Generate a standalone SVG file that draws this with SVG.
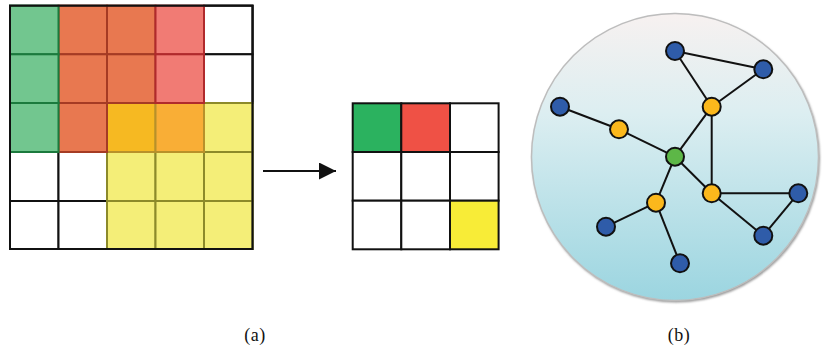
<svg xmlns="http://www.w3.org/2000/svg" width="822" height="349" viewBox="0 0 822 349">
  <defs>
    <style>
      .cell { stroke-width: 2; }
      .w { fill: #ffffff; stroke: #111111; }
      .gr { fill: #72C68F; stroke: #1B7A3D; }
      .or { fill: #E87850; stroke: #A53B24; }
      .pk { fill: #F17B74; stroke: #B02A2C; }
      .am { fill: #F6B922; stroke: #B8912A; }
      .ao { fill: #F9AE36; stroke: #B8912A; }
      .ye { fill: #F4EE78; stroke: #8C8A2A; }
      .edge { stroke: #111111; stroke-width: 2; fill: none; }
      .node { stroke: #111111; stroke-width: 2; }
      .blue { fill: #2F5CA9; }
      .gold { fill: #FBB81C; }
      .lime { fill: #5DB747; }
      .lbl { font-family: "Liberation Serif", "DejaVu Serif", serif; font-size: 18px; letter-spacing: 0.5px; fill: #111111; text-anchor: middle; }
    </style>
    <linearGradient id="disc" x1="0" y1="0" x2="0" y2="1">
      <stop offset="0" stop-color="#F7F1F0"/>
      <stop offset="0.35" stop-color="#DCEEF1"/>
      <stop offset="1" stop-color="#9BD5E0"/>
    </linearGradient>
    <filter id="shade" x="-10%" y="-10%" width="120%" height="120%">
      <feGaussianBlur stdDeviation="1.2"/>
    </filter>
    <marker id="head" viewBox="0 0 10 10" refX="10" refY="5" markerWidth="17" markerHeight="17" markerUnits="userSpaceOnUse" orient="auto">
      <path d="M0,0 L10,5 L0,10 Z" fill="#111111"/>
    </marker>
  </defs>

  <!-- 5x5 input grid -->
  <g id="grid-input">
    <rect class="cell w" x="10" y="5.7" width="242.5" height="243.3"/>
    <rect class="cell w" x="204" y="5.7" width="48.5" height="48.6"/>
    <rect class="cell w" x="204" y="54.3" width="48.5" height="48.7"/>
    <rect class="cell w" x="10" y="152" width="48.5" height="49"/>
    <rect class="cell w" x="58.5" y="152" width="48.5" height="49"/>
    <rect class="cell w" x="10" y="201" width="48.5" height="48"/>
    <rect class="cell w" x="58.5" y="201" width="48.5" height="48"/>

    <rect class="cell ye" x="204" y="103" width="48.5" height="49"/>
    <rect class="cell ye" x="107" y="152" width="48.5" height="49"/>
    <rect class="cell ye" x="155.5" y="152" width="48.5" height="49"/>
    <rect class="cell ye" x="204" y="152" width="48.5" height="49"/>
    <rect class="cell ye" x="107" y="201" width="48.5" height="48"/>
    <rect class="cell ye" x="155.5" y="201" width="48.5" height="48"/>
    <rect class="cell ye" x="204" y="201" width="48.5" height="48"/>

    <rect class="cell am" x="107" y="103" width="48.5" height="49"/>
    <rect class="cell ao" x="155.5" y="103" width="48.5" height="49"/>

    <rect class="cell or" x="58.5" y="5.7" width="48.5" height="48.6"/>
    <rect class="cell or" x="107" y="5.7" width="48.5" height="48.6"/>
    <rect class="cell or" x="58.5" y="54.3" width="48.5" height="48.7"/>
    <rect class="cell or" x="107" y="54.3" width="48.5" height="48.7"/>
    <rect class="cell or" x="58.5" y="103" width="48.5" height="49"/>

    <rect class="cell pk" x="155.5" y="5.7" width="48.5" height="48.6"/>
    <rect class="cell pk" x="155.5" y="54.3" width="48.5" height="48.7"/>

    <rect class="cell gr" x="10" y="5.7" width="48.5" height="48.6"/>
    <rect class="cell gr" x="10" y="54.3" width="48.5" height="48.7"/>
    <rect class="cell gr" x="10" y="103" width="48.5" height="49"/>

    <rect x="10" y="5.7" width="242.5" height="243.3" fill="none" stroke="#111111" stroke-width="2"/>
  </g>

  <!-- connector -->
  <g id="connectors-main">
    <line x1="263" y1="171" x2="336" y2="171" stroke="#111111" stroke-width="2" marker-end="url(#head)"/>
  </g>

  <!-- 3x3 output grid -->
  <g id="grid-output">
    <rect x="352.7" y="103.3" width="48.6" height="48.7" fill="#2BB25F" stroke="#111111" stroke-width="2"/>
    <rect x="401.3" y="103.3" width="48.7" height="48.7" fill="#EF5145" stroke="#111111" stroke-width="2"/>
    <rect x="450" y="103.3" width="48.6" height="48.7" fill="#ffffff" stroke="#111111" stroke-width="2"/>
    <rect x="352.7" y="152" width="48.6" height="48.7" fill="#ffffff" stroke="#111111" stroke-width="2"/>
    <rect x="401.3" y="152" width="48.7" height="48.7" fill="#ffffff" stroke="#111111" stroke-width="2"/>
    <rect x="450" y="152" width="48.6" height="48.7" fill="#ffffff" stroke="#111111" stroke-width="2"/>
    <rect x="352.7" y="200.7" width="48.6" height="48.6" fill="#ffffff" stroke="#111111" stroke-width="2"/>
    <rect x="401.3" y="200.7" width="48.7" height="48.6" fill="#ffffff" stroke="#111111" stroke-width="2"/>
    <rect x="450" y="200.7" width="48.6" height="48.6" fill="#F8EC37" stroke="#111111" stroke-width="2"/>
  </g>

  <!-- graph disc -->
  <g id="disc-bg">
    <circle cx="676" cy="158.5" r="144" fill="#9a9a9a" filter="url(#shade)"/>
    <circle cx="675" cy="157" r="143.5" fill="url(#disc)" stroke="#BDBDBD" stroke-width="1.5"/>
  </g>

  <g id="graph-edges">
    <line class="edge" x1="675" y1="51" x2="763.3" y2="69.3"/>
    <line class="edge" x1="675" y1="51" x2="711.7" y2="106.7"/>
    <line class="edge" x1="763.3" y1="69.3" x2="711.7" y2="106.7"/>
    <line class="edge" x1="711.7" y1="106.7" x2="675" y2="156.7"/>
    <line class="edge" x1="711.7" y1="106.7" x2="711.7" y2="193.3"/>
    <line class="edge" x1="560" y1="106.7" x2="619" y2="129.3"/>
    <line class="edge" x1="619" y1="129.3" x2="675" y2="156.7"/>
    <line class="edge" x1="675" y1="156.7" x2="711.7" y2="193.3"/>
    <line class="edge" x1="675" y1="156.7" x2="656" y2="202.7"/>
    <line class="edge" x1="656" y1="202.7" x2="606" y2="226.7"/>
    <line class="edge" x1="656" y1="202.7" x2="680" y2="263.3"/>
    <line class="edge" x1="711.7" y1="193.3" x2="798.3" y2="193.3"/>
    <line class="edge" x1="711.7" y1="193.3" x2="763.3" y2="235.7"/>
    <line class="edge" x1="798.3" y1="193.3" x2="763.3" y2="235.7"/>
  </g>

  <g id="n-top"><circle class="node blue" cx="675" cy="51" r="9"/></g>
  <g id="n-topright"><circle class="node blue" cx="763.3" cy="69.3" r="9"/></g>
  <g id="n-hub-upper"><circle class="node gold" cx="711.7" cy="106.7" r="9"/></g>
  <g id="n-left"><circle class="node blue" cx="560" cy="106.7" r="9"/></g>
  <g id="n-hub-left"><circle class="node gold" cx="619" cy="129.3" r="9"/></g>
  <g id="n-center"><circle class="node lime" cx="675" cy="156.7" r="9"/></g>
  <g id="n-hub-right"><circle class="node gold" cx="711.7" cy="193.3" r="9"/></g>
  <g id="n-right"><circle class="node blue" cx="798.3" cy="193.3" r="9"/></g>
  <g id="n-lowerright"><circle class="node blue" cx="763.3" cy="235.7" r="9"/></g>
  <g id="n-hub-lower"><circle class="node gold" cx="656" cy="202.7" r="9"/></g>
  <g id="n-lowerleft"><circle class="node blue" cx="606" cy="226.7" r="9"/></g>
  <g id="n-bottom"><circle class="node blue" cx="680" cy="263.3" r="9"/></g>

  <!-- captions -->
  <g id="captions">
    <text class="lbl" x="255" y="341">(a)</text>
    <text class="lbl" x="679" y="341">(b)</text>
  </g>
</svg>
